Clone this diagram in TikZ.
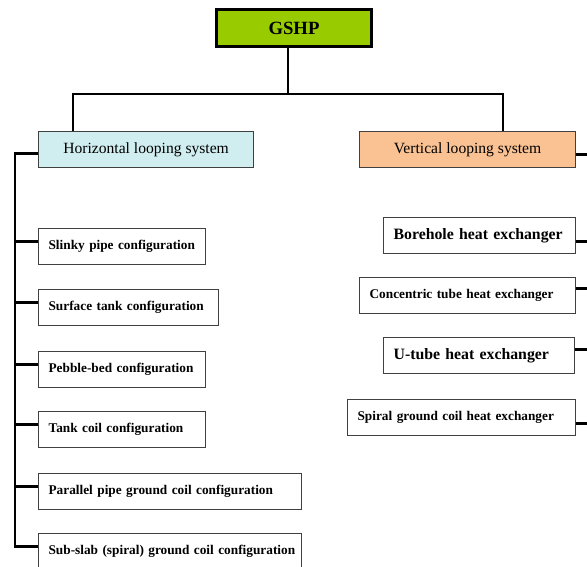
\documentclass[tikz,border=0pt]{standalone}
\usepackage{fontspec}
\setmainfont{Liberation Serif}
\usepackage{tikz}
\usetikzlibrary{positioning}
\definecolor{gshpGreen}{RGB}{153,204,0}
\definecolor{horizCyan}{RGB}{208,238,240}
\definecolor{vertOrange}{RGB}{250,194,146}

\begin{document}
\begin{tikzpicture}[%
	x=1pt,y=-1pt,
	link/.style={draw=black,line width=2.5pt},
	rootbox/.style={draw=black,line width=3pt,fill=gshpGreen,
		minimum width=155pt,minimum height=37pt,
		font=\fontsize{18.7}{20}\selectfont\bfseries},
	sysbox/.style={draw=black!75,line width=1.2pt,anchor=north west,
		minimum width=#1,minimum height=36pt,inner sep=0pt,
		font=\fontsize{15.6}{17}\selectfont},
	cfgbox/.style={draw=black!75,line width=1.2pt,anchor=north west,
		text width=#1,align=left,inner xsep=10pt,minimum height=36pt,
		font=\fontsize{13.3}{15}\selectfont\bfseries},
	bigbox/.style={cfgbox=#1,font=\fontsize{15.8}{17}\selectfont\bfseries},
	]
	\clip (0,0) rectangle (587,567);
	
	% top node
	\node[rootbox] (gshp) at (294,28) {GSHP};
	
	% two looping systems
	\node[sysbox=215pt,fill=horizCyan] (horiz) at (38,131) {Horizontal looping system};
	\node[sysbox=216pt,fill=vertOrange] (vert) at (359,131) {Vertical looping system};
	
	% horizontal configurations
	\node[cfgbox=147pt] (slinky) at (38,228) {Slinky pipe configuration};
	\node[cfgbox=160pt] (surface) at (38,289) {Surface tank configuration};
	\node[cfgbox=147pt] (pebble) at (38,351) {Pebble-bed configuration};
	\node[cfgbox=147pt] (tankcoil) at (38,411) {Tank coil configuration};
	\node[cfgbox=243pt] (parallel) at (38,473) {Parallel pipe ground coil configuration};
	\node[cfgbox=243pt] (subslab) at (38,533) {\mbox{Sub-slab (spiral) ground coil configuration}};
	
	% vertical heat exchangers
	\node[bigbox=172pt] (borehole) at (383,217) {Borehole heat exchanger};
	\node[cfgbox=196pt] (concentric) at (359,277) {Concentric tube heat exchanger};
	\node[bigbox=171pt] (utube) at (383,337) {U-tube heat exchanger};
	\node[cfgbox=208pt] (spiral) at (347,399) {Spiral ground coil heat exchanger};
	
	% bus coordinates
	\coordinate (stem) at (288,94);
	\coordinate (hsplit) at (73,94);
	\coordinate (vsplit) at (503,94);
	\coordinate (lbus) at (15,0);
	\coordinate (rbus) at (587,0);
	
	% draw tree from GSHP
	\draw[link] (gshp.south -| stem) -- (stem);
	\draw[link] (hsplit |- horiz.north) -- (hsplit) -- (vsplit) -- (vsplit |- vert.north);
	
	% draw left bus
	\path ([yshift=-4pt]horiz.west) coordinate (hw) ([yshift=5pt]subslab.west) coordinate (sw);
	\draw[link] (hw) -| (sw -| lbus) -- (sw);
	\foreach \n in {slinky,surface,pebble,tankcoil,parallel}{
		\draw[link] ([yshift=5pt]\n.west) coordinate (c) -- (c -| lbus);
	}
	
	% draw right links
	\foreach \n/\s in {vert/-5,borehole/-6,concentric/7,utube/6,spiral/-6}{
		\draw[link] ([yshift=\s pt]\n.east) coordinate (c) -- (c -| rbus);
	}
\end{tikzpicture}
\end{document}
